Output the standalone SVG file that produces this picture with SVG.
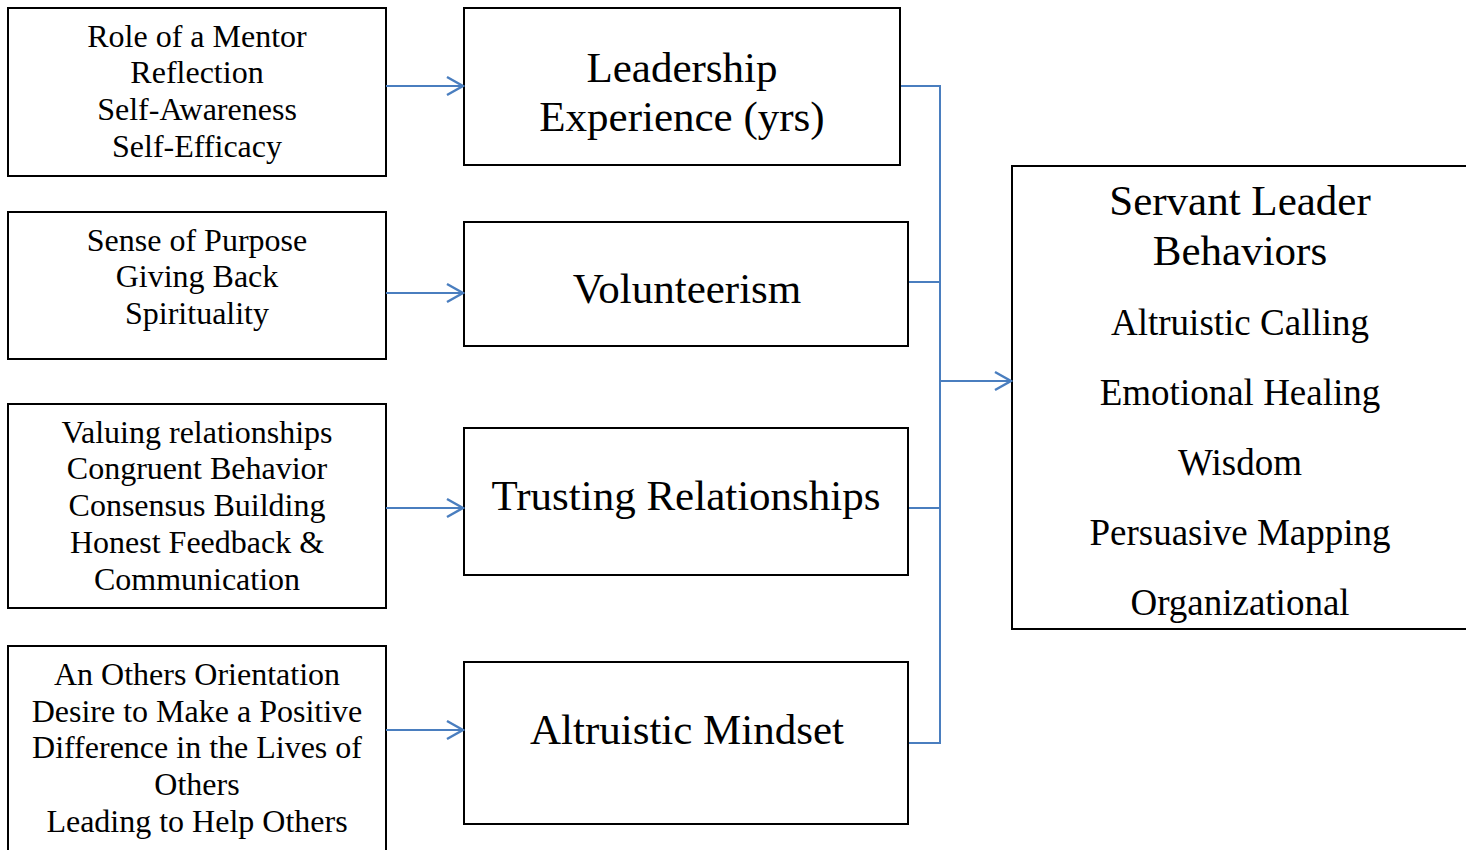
<svg xmlns="http://www.w3.org/2000/svg" width="1466" height="850" viewBox="0 0 1466 850">
<style>
.box{fill:#fff;stroke:#000;stroke-width:2}
.t{font-family:"Liberation Serif","Times New Roman",serif;fill:#000;text-anchor:middle}
.s{font-size:32px}
.m{font-size:43px}
.r{font-size:37px}
.c{fill:none;stroke:#4a7ebf;stroke-width:2}
</style>
<defs>
<marker id="ah" markerWidth="20" markerHeight="22" refX="18" refY="11" orient="auto" markerUnits="userSpaceOnUse">
<path d="M2,2 L18,11 L2,20" fill="none" stroke="#4a7ebf" stroke-width="2.5"/>
</marker>
</defs>
<rect width="1466" height="850" fill="#fff"/>
<g id="n1"><rect class="box" x="8" y="8" width="378" height="168"/>
<text class="t s"><tspan x="197" y="47">Role of a Mentor</tspan><tspan x="197" y="83">Reflection</tspan><tspan x="197" y="120">Self-Awareness</tspan><tspan x="197" y="157">Self-Efficacy</tspan></text></g>
<g id="n2"><rect class="box" x="8" y="212" width="378" height="147"/>
<text class="t s"><tspan x="197" y="251">Sense of Purpose</tspan><tspan x="197" y="287">Giving Back</tspan><tspan x="197" y="324">Spirituality</tspan></text></g>
<g id="n3"><rect class="box" x="8" y="404" width="378" height="204"/>
<text class="t s"><tspan x="197" y="443">Valuing relationships</tspan><tspan x="197" y="479">Congruent Behavior</tspan><tspan x="197" y="516">Consensus Building</tspan><tspan x="197" y="553">Honest Feedback &amp;</tspan><tspan x="197" y="590">Communication</tspan></text></g>
<g id="n4"><rect class="box" x="8" y="646" width="378" height="220"/>
<text class="t s"><tspan x="197" y="685">An Others Orientation</tspan><tspan x="197" y="722">Desire to Make a Positive</tspan><tspan x="197" y="758">Difference in the Lives of</tspan><tspan x="197" y="795">Others</tspan><tspan x="197" y="832">Leading to Help Others</tspan></text></g>
<g id="m1"><rect class="box" x="464" y="8" width="436" height="157"/>
<text class="t m"><tspan x="682" y="82">Leadership</tspan><tspan x="682" y="131">Experience (yrs)</tspan></text></g>
<g id="m2"><rect class="box" x="464" y="222" width="444" height="124"/>
<text class="t m" x="687" y="303">Volunteerism</text></g>
<g id="m3"><rect class="box" x="464" y="428" width="444" height="147"/>
<text class="t m" x="686" y="510">Trusting Relationships</text></g>
<g id="m4"><rect class="box" x="464" y="662" width="444" height="162"/>
<text class="t m" x="687" y="744">Altruistic Mindset</text></g>
<g id="out"><rect class="box" x="1012" y="166" width="470" height="463"/>
<text class="t m"><tspan x="1240" y="215">Servant Leader</tspan><tspan x="1240" y="265">Behaviors</tspan></text>
<text class="t r"><tspan x="1240" y="335">Altruistic Calling</tspan><tspan x="1240" y="405">Emotional Healing</tspan><tspan x="1240" y="475">Wisdom</tspan><tspan x="1240" y="545">Persuasive Mapping</tspan><tspan x="1240" y="615">Organizational</tspan></text></g>
<g id="connectors">
<line class="c" x1="386" y1="86" x2="463" y2="86" marker-end="url(#ah)"/>
<line class="c" x1="386" y1="293" x2="463" y2="293" marker-end="url(#ah)"/>
<line class="c" x1="386" y1="508" x2="463" y2="508" marker-end="url(#ah)"/>
<line class="c" x1="386" y1="730" x2="463" y2="730" marker-end="url(#ah)"/>
<path class="c" d="M901,86 H940 V743 H909 M909,282 H940 M909,508 H940"/>
<line class="c" x1="940" y1="381" x2="1011" y2="381" marker-end="url(#ah)"/>
</g>
</svg>
